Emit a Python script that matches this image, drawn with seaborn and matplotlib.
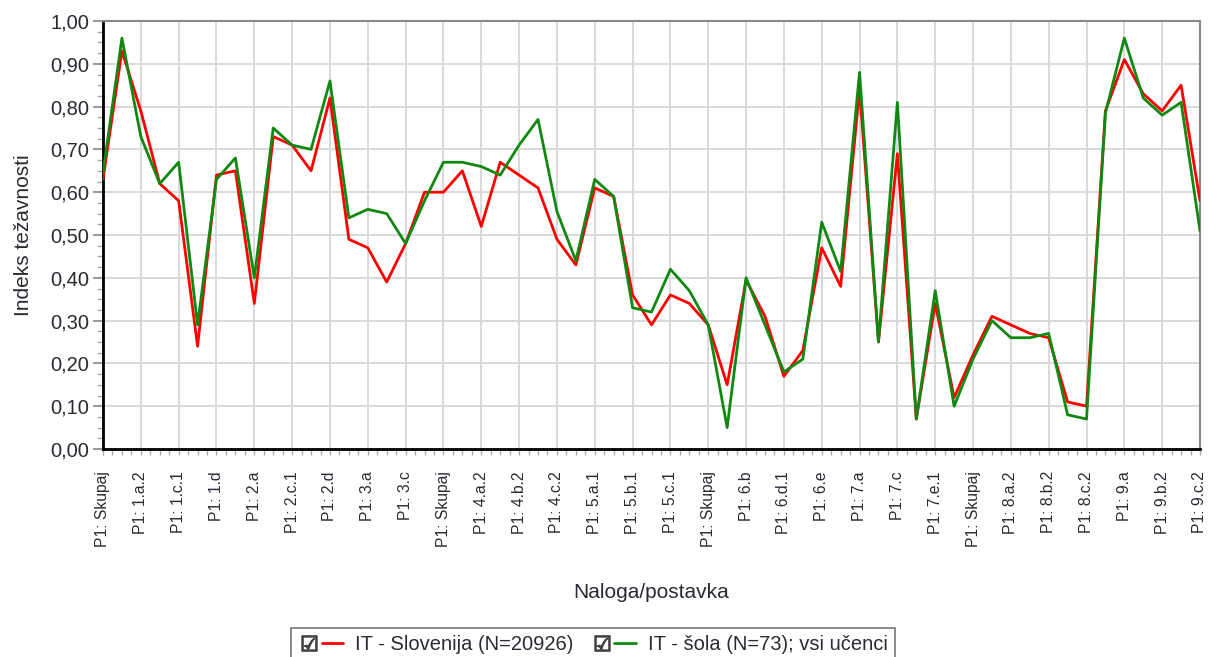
import numpy as np
import pandas as pd
import seaborn as sns
import matplotlib.pyplot as plt
from matplotlib.lines import Line2D
from matplotlib.legend_handler import HandlerTuple
from matplotlib.ticker import MultipleLocator, FuncFormatter

# postavke (vsaka druga je izpisana na osi)
postavke = [
    "P1: Skupaj", "P1: 1.a.1", "P1: 1.a.2", "P1: 1.b", "P1: 1.c.1", "P1: 1.c.2",
    "P1: 1.d", "P1: 1.e", "P1: 2.a", "P1: 2.b", "P1: 2.c.1", "P1: 2.c.2",
    "P1: 2.d", "P1: 2.e", "P1: 3.a", "P1: 3.b", "P1: 3.c", "P1: 3.d",
    "P1: Skupaj", "P1: 4.a.1", "P1: 4.a.2", "P1: 4.b.1", "P1: 4.b.2", "P1: 4.c.1",
    "P1: 4.c.2", "P1: 4.d", "P1: 5.a.1", "P1: 5.a.2", "P1: 5.b.1", "P1: 5.b.2",
    "P1: 5.c.1", "P1: 5.c.2", "P1: Skupaj", "P1: 6.a", "P1: 6.b", "P1: 6.c",
    "P1: 6.d.1", "P1: 6.d.2", "P1: 6.e", "P1: 6.f", "P1: 7.a", "P1: 7.b",
    "P1: 7.c", "P1: 7.d", "P1: 7.e.1", "P1: 7.e.2", "P1: Skupaj", "P1: 8.a.1",
    "P1: 8.a.2", "P1: 8.b.1", "P1: 8.b.2", "P1: 8.c.1", "P1: 8.c.2", "P1: 8.d",
    "P1: 9.a", "P1: 9.b.1", "P1: 9.b.2", "P1: 9.c.1", "P1: 9.c.2",
]

# indeks tezavnosti - Slovenija
slovenija = [
    0.63, 0.93, 0.79, 0.62, 0.58, 0.24, 0.64, 0.65, 0.34, 0.73,
    0.71, 0.65, 0.82, 0.49, 0.47, 0.39, 0.48, 0.60, 0.60, 0.65,
    0.52, 0.67, 0.64, 0.61, 0.49, 0.43, 0.61, 0.59, 0.36, 0.29,
    0.36, 0.34, 0.29, 0.15, 0.395, 0.31, 0.17, 0.23, 0.47, 0.38,
    0.84, 0.25, 0.69, 0.07, 0.34, 0.12, 0.22, 0.31, 0.29, 0.27,
    0.26, 0.11, 0.10, 0.79, 0.91, 0.83, 0.79, 0.85, 0.58,
]

# indeks tezavnosti - sola
sola = [
    0.645, 0.96, 0.73, 0.62, 0.67, 0.29, 0.63, 0.68, 0.40, 0.75,
    0.71, 0.70, 0.86, 0.54, 0.56, 0.55, 0.48, 0.58, 0.67, 0.67,
    0.66, 0.64, 0.71, 0.77, 0.555, 0.44, 0.63, 0.59, 0.33, 0.32,
    0.42, 0.37, 0.29, 0.05, 0.40, 0.29, 0.18, 0.21, 0.53, 0.415,
    0.88, 0.25, 0.81, 0.07, 0.37, 0.10, 0.21, 0.30, 0.26, 0.26,
    0.27, 0.08, 0.07, 0.785, 0.96, 0.82, 0.78, 0.81, 0.51,
]

serija_slo = "IT - Slovenija (N=20926)"
serija_sola = "IT - šola (N=73); vsi učenci"

df = pd.DataFrame({
    "x": list(range(len(postavke))) * 2,
    "indeks": slovenija + sola,
    "serija": [serija_slo] * len(slovenija) + [serija_sola] * len(sola),
})

sns.set_style("white")
plt.rcParams["font.family"] = ["Liberation Sans", "DejaVu Sans"]
plt.rcParams["text.color"] = "#2a2a35"
plt.rcParams["axes.labelcolor"] = "#2a2a35"
plt.rcParams["xtick.labelcolor"] = "#2a2a35"
plt.rcParams["ytick.labelcolor"] = "#2a2a35"

fig = plt.figure(figsize=(12.08, 6.57), dpi=100)
ax = fig.add_axes([103 / 1208, 1 - 449 / 657, 1097 / 1208, 428 / 657])

barve = {serija_slo: "#ff0000", serija_sola: "#118811"}
sns.lineplot(data=df, x="x", y="indeks", hue="serija", palette=barve,
             linewidth=2.0, legend=False, ax=ax, zorder=3)

ax.set_xlim(0, len(postavke) - 1)
ax.set_ylim(0, 1)

# osi
ax.set_xticks(range(0, len(postavke), 2))
ax.set_xticklabels(postavke[::2], rotation=90, fontsize=11.3)
ax.xaxis.set_minor_locator(MultipleLocator(0.5))
ax.yaxis.set_major_locator(MultipleLocator(0.1))
ax.yaxis.set_minor_locator(MultipleLocator(0.025))
ax.yaxis.set_major_formatter(FuncFormatter(lambda v, p: f"{v:.2f}".replace(".", ",")))
ax.tick_params(axis="y", which="major", length=7, width=1.2, color="#888888",
               labelsize=14.5, left=True, pad=3)
ax.tick_params(axis="y", which="minor", length=4, width=1, color="#aaaaaa", left=True)
ax.tick_params(axis="x", which="both", length=4, width=1, color="#aaaaaa",
               bottom=True, pad=12)

ax.grid(True, which="major", color="#d9d9d9", linewidth=1.4, zorder=0)

for s in ["left", "bottom"]:
    ax.spines[s].set_color("black")
    ax.spines[s].set_linewidth(2)
for s in ["top", "right"]:
    ax.spines[s].set_color("#888888")
    ax.spines[s].set_linewidth(1.5)

ax.set_xlabel("Naloga/postavka", fontsize=15, labelpad=26)
ax.set_ylabel("Indeks težavnosti", fontsize=15, labelpad=12)

# legenda s "potrditvenimi polji"
polje = Line2D([], [], marker="$\u2611$", markersize=11, color="#444444",
               linestyle="none")
h1 = (polje, Line2D([], [], color="#ff0000", linewidth=2))
h2 = (polje, Line2D([], [], color="#118811", linewidth=2))
leg = fig.legend([h1, h2], [serija_slo, serija_sola], ncol=2,
                 handler_map={tuple: HandlerTuple(ndivide=None, pad=0.1)},
                 loc="center", bbox_to_anchor=(593 / 1208, 12 / 657),
                 fontsize=14.5, frameon=True, fancybox=False, edgecolor="#555555",
                 handlelength=2.2, handletextpad=0.6, columnspacing=0.9,
                 borderpad=0.35)
leg.get_frame().set_linewidth(1.2)

fig.savefig("out.png", dpi=100)
